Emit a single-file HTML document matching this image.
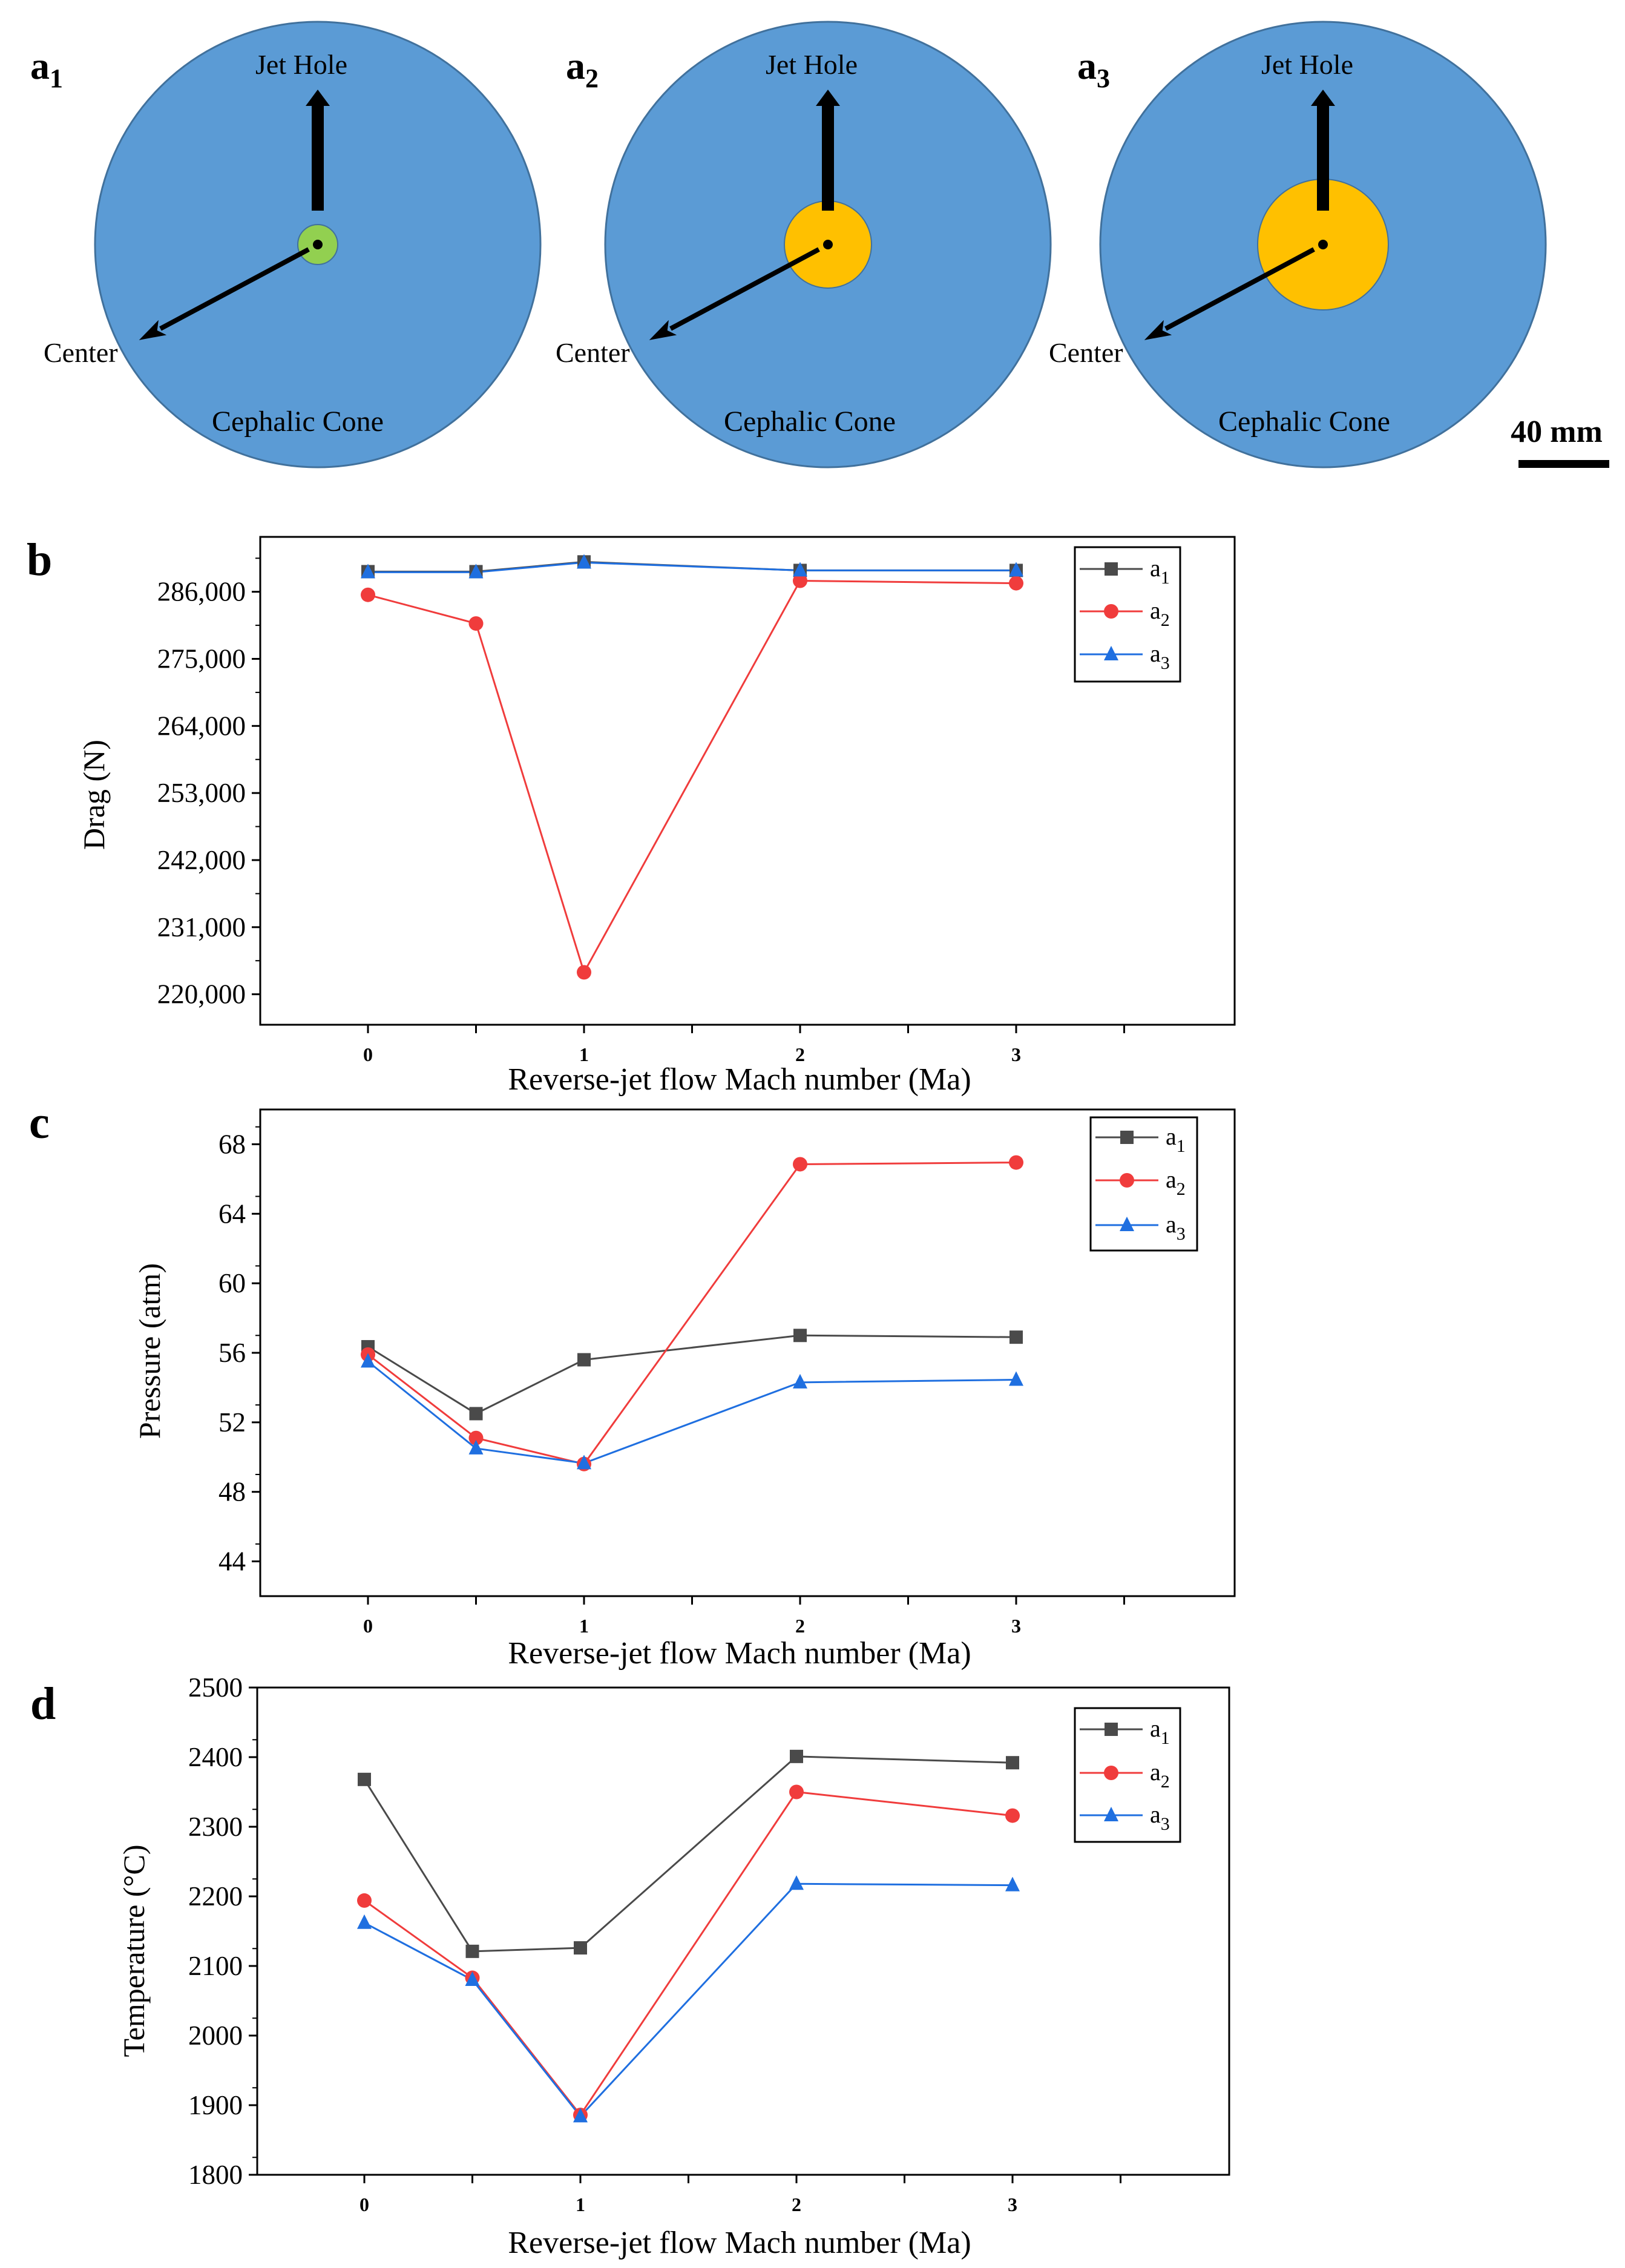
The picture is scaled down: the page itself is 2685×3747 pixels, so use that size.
<!DOCTYPE html>
<html><head><meta charset="utf-8"><style>
html,body{margin:0;padding:0;background:#fff}
svg{display:block}
svg, svg text{font-family:"Liberation Serif","Times New Roman",serif}
</style></head><body>
<svg id="fig" width="2685" height="3747" viewBox="0 0 2685 3747" xmlns="http://www.w3.org/2000/svg" font-family="Liberation Serif, serif">
<defs>
<marker id="ah" markerWidth="44" markerHeight="36" refX="4" refY="18" orient="auto" markerUnits="userSpaceOnUse"><path d="M0,4 L44,18 L0,32 L10,18 z" fill="#000"/></marker>
</defs>
<g id="schematics">
 <g>
  <circle cx="525" cy="404" r="368" fill="#5b9bd5" stroke="#41719c" stroke-width="3"/>
  <circle cx="525" cy="404" r="33" fill="#92d050" stroke="#41719c" stroke-width="2"/>
  <circle cx="525" cy="404" r="8" fill="#000"/>
  <path d="M515,348 L515,175 L505,175 L525,148 L545,175 L535,175 L535,348 Z" fill="#000"/>
  <line x1="510" y1="412" x2="265" y2="543" stroke="#000" stroke-width="8" marker-end="url(#ah)"/>
  <text x="50" y="130" font-size="64" font-weight="bold">a<tspan font-size="44" dy="14">1</tspan></text>
  <text x="498" y="122" font-size="46" text-anchor="middle">Jet Hole</text>
  <text x="72" y="598" font-size="46">Center</text>
  <text x="492" y="712" font-size="48" text-anchor="middle">Cephalic Cone</text>
 </g>
 <g>
  <circle cx="1368" cy="404" r="368" fill="#5b9bd5" stroke="#41719c" stroke-width="3"/>
  <circle cx="1368" cy="404" r="72" fill="#ffc000" stroke="#41719c" stroke-width="2"/>
  <circle cx="1368" cy="404" r="8" fill="#000"/>
  <path d="M1358,348 L1358,175 L1348,175 L1368,148 L1388,175 L1378,175 L1378,348 Z" fill="#000"/>
  <line x1="1353" y1="412" x2="1108" y2="543" stroke="#000" stroke-width="8" marker-end="url(#ah)"/>
  <text x="935" y="130" font-size="64" font-weight="bold">a<tspan font-size="44" dy="14">2</tspan></text>
  <text x="1341" y="122" font-size="46" text-anchor="middle">Jet Hole</text>
  <text x="918" y="598" font-size="46">Center</text>
  <text x="1338" y="712" font-size="48" text-anchor="middle">Cephalic Cone</text>
 </g>
 <g>
  <circle cx="2186" cy="404" r="368" fill="#5b9bd5" stroke="#41719c" stroke-width="3"/>
  <circle cx="2186" cy="404" r="108" fill="#ffc000" stroke="#41719c" stroke-width="2"/>
  <circle cx="2186" cy="404" r="8" fill="#000"/>
  <path d="M2176,348 L2176,175 L2166,175 L2186,148 L2206,175 L2196,175 L2196,348 Z" fill="#000"/>
  <line x1="2171" y1="412" x2="1926" y2="543" stroke="#000" stroke-width="8" marker-end="url(#ah)"/>
  <text x="1780" y="130" font-size="64" font-weight="bold">a<tspan font-size="44" dy="14">3</tspan></text>
  <text x="2160" y="122" font-size="46" text-anchor="middle">Jet Hole</text>
  <text x="1733" y="598" font-size="46">Center</text>
  <text x="2155" y="712" font-size="48" text-anchor="middle">Cephalic Cone</text>
 </g>
 <text x="2572" y="730" font-size="52" font-weight="bold" text-anchor="middle">40 mm</text>
 <rect x="2509" y="760" width="150" height="13" fill="#000"/>
</g>
<g id="charts"></g>
</svg>
<script>
var NS="http://www.w3.org/2000/svg";
var xCats=[0,0.5,1,2,3];
var xTickVals=[0,0.5,1,1.5,2,2.5,3,3.5];
var xTickLabels=["0","1","2","3"];
var xTickLabelVals=[0,1,2,3];
var seriesNames=["a1","a2","a3"];
var dragA1=[289300,289300,290900,289500,289500];
var dragA2=[285500,280800,223600,287800,287400];
var dragA3=[289200,289200,290800,289500,289500];
var dragTicks=[220000,231000,242000,253000,264000,275000,286000];
var dragTickLabels=["220,000","231,000","242,000","253,000","264,000","275,000","286,000"];
var presA1=[56.35,52.5,55.6,57.0,56.9];
var presA2=[55.9,51.1,49.6,66.85,66.95];
var presA3=[55.5,50.5,49.65,54.3,54.45];
var presTicks=[44,48,52,56,60,64,68];
var presTickLabels=["44","48","52","56","60","64","68"];
var tempA1=[2368,2121,2126,2401,2392];
var tempA2=[2194,2083,1886,2350,2316];
var tempA3=[2162,2080,1884,2218,2216];
var tempTicks=[1800,1900,2000,2100,2200,2300,2400,2500];
var tempTickLabels=["1800","1900","2000","2100","2200","2300","2400","2500"];

var colors=["#4a4a4a","#f03c3c","#1f6fe0"];
var root=document.getElementById("charts");
function mk(tag,attrs,parent){var e=document.createElementNS(NS,tag);for(var k in attrs)e.setAttribute(k,attrs[k]);(parent||root).appendChild(e);return e;}

function marker(g,kind,cx,cy,col){
  var m;
  if(kind===0){m=mk("rect",{x:cx-11,y:cy-11,width:22,height:22,fill:col},g);}
  else if(kind===1){m=mk("circle",{cx:cx,cy:cy,r:12,fill:col},g);}
  else {m=mk("path",{d:"M"+cx+","+(cy-14)+" L"+(cx+12)+","+(cy+10)+" L"+(cx-12)+","+(cy+10)+" Z",fill:col},g);}
  
  
  return m;
}

function chart(c){
  var g=mk("g",{});
  
  
  var L=c.left,R=c.right,T=c.top,B=c.bottom;
  function X(v){return c.x0+v*357;}
  function Y(v){return B-(v-c.ymin)/(c.ymax-c.ymin)*(B-T);}
  var fr=mk("rect",{x:L,y:T,width:R-L,height:B-T,fill:"none",stroke:"#000","stroke-width":3},g);
  
  
  xTickVals.forEach(function(v){
    var t=mk("line",{x1:X(v),x2:X(v),y1:B,y2:B+14,stroke:"#000","stroke-width":3},g);
    
    
  });
  xTickLabelVals.forEach(function(v,i){
    var t=mk("text",{x:X(v),y:B+60,"font-size":32,"font-weight":"bold","text-anchor":"middle"},g);
    t.textContent=xTickLabels[i];
    
    
  });
  c.ticks.forEach(function(v,i){
    var t=mk("line",{x1:L-14,x2:L,y1:Y(v),y2:Y(v),stroke:"#000","stroke-width":3},g);
    
    
    var mv=v+c.step/2;
    if(mv<c.ymax){var mt=mk("line",{x1:L-8,x2:L,y1:Y(mv),y2:Y(mv),stroke:"#000","stroke-width":2},g);
    
    }
    var tl=mk("text",{x:L-24,y:Y(v)+15,"font-size":45,"text-anchor":"end"},g);
    tl.textContent=c.tickLabels[i];
    
    
  });
  var xt=mk("text",{x:1222,y:c.xTitleY,"font-size":52,"text-anchor":"middle"},g);
  xt.textContent="Reverse-jet flow Mach number  (Ma)";
  
  
  var yt=mk("text",{x:0,y:0,"font-size":50,"text-anchor":"middle",transform:"translate("+c.yTitleX+","+c.yTitleY+") rotate(-90)"},g);
  yt.textContent=c.yTitle;
  
  
  var pl=mk("text",{x:c.plx,y:c.ply,"font-size":76,"font-weight":"bold"},g);
  pl.textContent=c.panel;
  
  
  c.series.forEach(function(s,k){
    var pts=xCats.map(function(x,i){return X(x)+","+Y(s[i]);}).join(" ");
    var ln=mk("polyline",{points:pts,fill:"none",stroke:colors[k],"stroke-width":3},g);
    
    
  });
  c.series.forEach(function(s,k){
    xCats.forEach(function(x,i){marker(g,k,X(x),Y(s[i]),colors[k]);});
  });
  var lg=mk("g",{},g);
  
  
  var lb=mk("rect",{x:c.lg[0],y:c.lg[1],width:c.lg[2]-c.lg[0],height:c.lg[3]-c.lg[1],fill:"#fff",stroke:"#000","stroke-width":3},lg);
  
  
  c.lgY.forEach(function(yy,k){
    var e=mk("g",{},lg);
    
    
    mk("line",{x1:c.lg[0]+8,x2:c.lg[0]+112,y1:yy,y2:yy,stroke:colors[k],"stroke-width":3},e);
    marker(e,k,c.lg[0]+60,yy,colors[k]);
    var t=mk("text",{x:c.lg[0]+124,y:yy+12,"font-size":40},e);
    t.textContent="a";
    var sub=mk("tspan",{"font-size":30,dy:12},t);
    sub.textContent=String(k+1);
  });
}

chart({name:"drag-chart",panel:"b",left:430,right:2040,top:887,bottom:1693,x0:608,ymin:215000,ymax:295000,step:11000,
 ticks:dragTicks,tickLabels:dragTickLabels,series:[dragA1,dragA2,dragA3],yTitle:"Drag (N)",yTitleX:172,yTitleY:1313,
 xTitleY:1800,plx:44,ply:950,lg:[1776,904,1950,1126],lgY:[940,1010,1081]});
chart({name:"pressure-chart",panel:"c",left:430,right:2040,top:1833,bottom:2637,x0:608,ymin:42,ymax:70,step:2,
 ticks:presTicks,tickLabels:presTickLabels,series:[presA1,presA2,presA3],yTitle:"Pressure (atm)",yTitleX:264,yTitleY:2232,
 xTitleY:2748,plx:48,ply:1880,lg:[1802,1846,1978,2066],lgY:[1879,1950,2024]});
chart({name:"temperature-chart",panel:"d",left:425,right:2031,top:2788,bottom:3593,x0:602,ymin:1800,ymax:2500,step:50,
 ticks:tempTicks,tickLabels:tempTickLabels,series:[tempA1,tempA2,tempA3],yTitle:"Temperature (°C)",yTitleX:238,yTitleY:3223,
 xTitleY:3722,plx:50,ply:2840,lg:[1776,2822,1950,3043],lgY:[2857,2929,2999]});
</script>
</body></html>
